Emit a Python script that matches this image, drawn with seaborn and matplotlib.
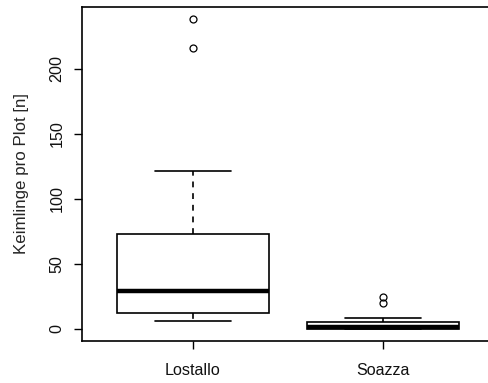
import matplotlib
matplotlib.use("Agg")
import matplotlib.pyplot as plt
import seaborn as sns
import pandas as pd

# Observations per site (read/estimated from the reference boxplot)
lostallo = [6, 8, 10, 12, 18, 24, 29, 40, 55, 73, 121, 216, 238]
soazza = [0, 0, 0, 0, 0, 0, 1, 2, 3, 5, 8, 20, 24]
sites = ["Lostallo", "Soazza"]
yticks = [0, 50, 100, 150, 200]

df = pd.DataFrame({
    "site": [sites[0]] * len(lostallo) + [sites[1]] * len(soazza),
    "n": lostallo + soazza,
})

sns.set_theme(style="white")
plt.rcParams["font.family"] = ["Liberation Sans", "DejaVu Sans"]

fig = plt.figure(figsize=(4.88, 3.83), dpi=100)
W, H = 488, 383
ax = fig.add_axes([82 / W, (H - 341) / H, (493 - 82) / W, (341 - 7) / H])

lw = 1.2
sns.boxplot(
    data=df, x="site", y="n", order=sites, ax=ax,
    color="white", linecolor="black", linewidth=lw, width=0.8, whis=1.5,
    boxprops=dict(edgecolor="black", linewidth=lw),
    whiskerprops=dict(linestyle=(0, (3.5, 3.5)), linewidth=lw),
    capprops=dict(linestyle="-", linewidth=lw),
    medianprops=dict(linewidth=3.2, color="black"),
    flierprops=dict(marker="o", markersize=5, markerfacecolor="none",
                    markeredgecolor="black", markeredgewidth=0.9),
)

ax.set_xlim(-0.584, 1.58)
ax.set_ylim(-9.52, 247.52)
ax.set_yticks(yticks)
ax.set_yticklabels([str(t) for t in yticks], rotation=90, va="center")
ax.set_xlabel("")
ax.set_ylabel("Keimlinge pro Plot [n]", fontsize=12.2, labelpad=15)
for s in ax.spines.values():
    s.set_visible(True)
    s.set_color("black")
    s.set_linewidth(1.2)
ax.tick_params(axis="both", direction="out", length=5.5, width=1.0,
               color="black", labelsize=11.6, labelcolor="#111111",
               left=True, bottom=True)
ax.tick_params(axis="x", pad=10.5)
ax.tick_params(axis="y", pad=7)
ax.grid(False)

fig.savefig("out.png", dpi=100, facecolor="white")
